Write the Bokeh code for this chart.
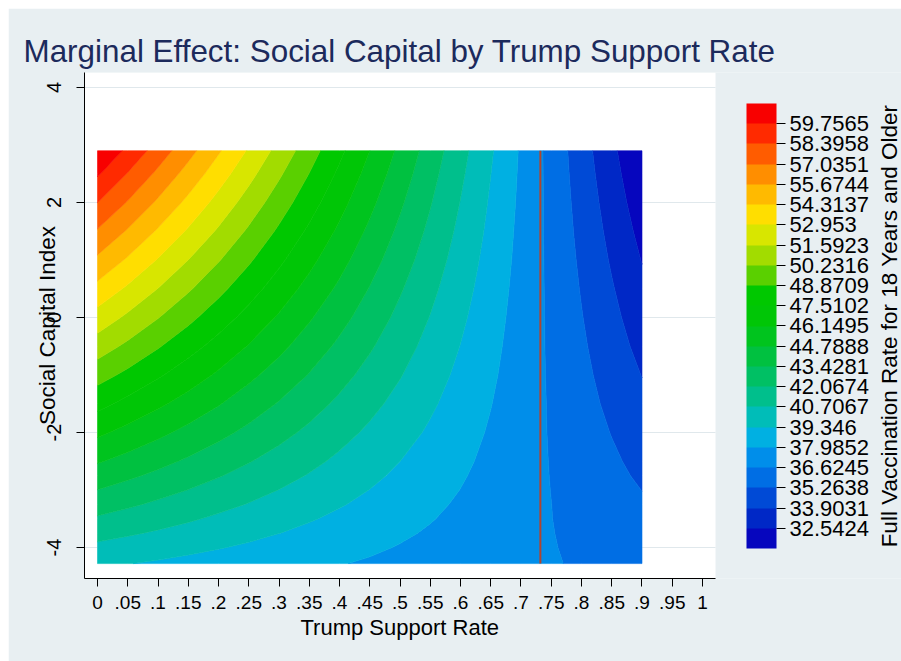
import numpy as np
from bokeh.plotting import figure
from bokeh.plotting.contour import contour_data
from bokeh.models import (ColumnDataSource, FixedTicker, LinearColorMapper, ColorBar,
                          Label, Range1d, Title)
from bokeh.embed import file_html
from bokeh.resources import INLINE

# ---------------- data ----------------
TITLE = "Marginal Effect: Social Capital by Trump Support Rate"
X_LABEL = "Trump Support Rate"
Y_LABEL = "Social Capital Index"
CB_LABEL = "Full Vaccination Rate for 18 Years and Older"

# grid columns: Trump support rate
TRUMP_RATE = [0.0, 0.05, 0.1, 0.15, 0.2, 0.25, 0.3, 0.35, 0.4, 0.45,
              0.5, 0.55, 0.6, 0.65, 0.7, 0.75, 0.8, 0.85, 0.9]
# grid rows: social capital index
SOCIAL_CAPITAL = [-4.28, -4.0, -3.75, -3.5, -3.25, -3.0, -2.75, -2.5, -2.0, -1.5,
                  -1.0, -0.5, 0.0, 0.5, 1.0, 1.5, 2.0, 2.5, 2.9]
# predicted full vaccination rate (rows follow SOCIAL_CAPITAL, columns TRUMP_RATE)
VACC_RATE = [
    [39.57, 39.38, 39.19, 38.99, 38.80, 38.61, 38.42, 38.23, 38.04, 37.85, 37.66, 37.47, 37.27, 37.08, 36.89, 36.70, 36.51, 36.32, 36.13],
    [40.41, 40.16, 39.91, 39.66, 39.41, 39.17, 38.92, 38.67, 38.42, 38.17, 37.92, 37.67, 37.43, 37.18, 36.93, 36.68, 36.43, 36.18, 35.94],
    [41.16, 40.86, 40.56, 40.26, 39.96, 39.66, 39.36, 39.06, 38.76, 38.46, 38.16, 37.86, 37.56, 37.26, 36.96, 36.66, 36.36, 36.06, 35.76],
    [41.91, 41.56, 41.21, 40.86, 40.50, 40.15, 39.80, 39.45, 39.10, 38.75, 38.40, 38.05, 37.70, 37.35, 36.99, 36.64, 36.29, 35.94, 35.59],
    [42.66, 42.26, 41.85, 41.45, 41.05, 40.65, 40.25, 39.84, 39.44, 39.04, 38.64, 38.23, 37.83, 37.43, 37.03, 36.63, 36.22, 35.82, 35.42],
    [43.41, 42.96, 42.50, 42.05, 41.59, 41.14, 40.69, 40.23, 39.78, 39.33, 38.87, 38.42, 37.97, 37.51, 37.06, 36.61, 36.15, 35.70, 35.25],
    [44.16, 43.65, 43.15, 42.64, 42.14, 41.64, 41.13, 40.63, 40.12, 39.62, 39.11, 38.61, 38.10, 37.60, 37.09, 36.59, 36.08, 35.58, 35.07],
    [44.91, 44.35, 43.80, 43.24, 42.69, 42.13, 41.57, 41.02, 40.46, 39.91, 39.35, 38.79, 38.24, 37.68, 37.13, 36.57, 36.01, 35.46, 34.90],
    [46.41, 45.75, 45.09, 44.43, 43.78, 43.12, 42.46, 41.80, 41.14, 40.48, 39.83, 39.17, 38.51, 37.85, 37.19, 36.53, 35.87, 35.22, 34.56],
    [47.91, 47.15, 46.39, 45.63, 44.87, 44.11, 43.34, 42.58, 41.82, 41.06, 40.30, 39.54, 38.78, 38.02, 37.26, 36.50, 35.74, 34.97, 34.21],
    [49.41, 48.55, 47.68, 46.82, 45.96, 45.09, 44.23, 43.37, 42.50, 41.64, 40.78, 39.91, 39.05, 38.19, 37.32, 36.46, 35.60, 34.73, 33.87],
    [50.91, 49.95, 48.98, 48.01, 47.05, 46.08, 45.12, 44.15, 43.18, 42.22, 41.25, 40.29, 39.32, 38.35, 37.39, 36.42, 35.46, 34.49, 33.52],
    [52.41, 51.34, 50.28, 49.21, 48.14, 47.07, 46.00, 44.93, 43.86, 42.80, 41.73, 40.66, 39.59, 38.52, 37.45, 36.39, 35.32, 34.25, 33.18],
    [53.91, 52.74, 51.57, 50.40, 49.23, 48.06, 46.89, 45.72, 44.55, 43.37, 42.20, 41.03, 39.86, 38.69, 37.52, 36.35, 35.18, 34.01, 32.84],
    [55.41, 54.14, 52.87, 51.59, 50.32, 49.05, 47.77, 46.50, 45.23, 43.95, 42.68, 41.41, 40.13, 38.86, 37.59, 36.31, 35.04, 33.76, 32.49],
    [56.91, 55.54, 54.16, 52.79, 51.41, 50.03, 48.66, 47.28, 45.91, 44.53, 43.15, 41.78, 40.40, 39.03, 37.65, 36.27, 34.90, 33.52, 32.15],
    [58.41, 56.94, 55.46, 53.98, 52.50, 51.02, 49.54, 48.07, 46.59, 45.11, 43.63, 42.15, 40.67, 39.19, 37.72, 36.24, 34.76, 33.28, 31.80],
    [59.92, 58.33, 56.75, 55.17, 53.59, 52.01, 50.43, 48.85, 47.27, 45.69, 44.11, 42.52, 40.94, 39.36, 37.78, 36.20, 34.62, 33.04, 31.46],
    [61.12, 59.45, 57.79, 56.13, 54.46, 52.80, 51.14, 49.48, 47.81, 46.15, 44.49, 42.82, 41.16, 39.50, 37.83, 36.17, 34.51, 32.85, 31.18],
]
# contour cut points (colour bar labels)
LEVEL_CUTS = [32.5424, 33.9031, 35.2638, 36.6245, 37.9852, 39.346, 40.7067,
              42.0674, 43.4281, 44.7888, 46.1495, 47.5102, 48.8709, 50.2316,
              51.5923, 52.953, 54.3137, 55.6744, 57.0351, 58.3958, 59.7565]
LEVEL_LABELS = ["32.5424", "33.9031", "35.2638", "36.6245", "37.9852", "39.346",
                "40.7067", "42.0674", "43.4281", "44.7888", "46.1495", "47.5102",
                "48.8709", "50.2316", "51.5923", "52.953", "54.3137", "55.6744",
                "57.0351", "58.3958", "59.7565"]
Z_LOW, Z_HIGH = 31.1817, 61.1172
# Trump support rate where the marginal effect of social capital is zero
ZERO_EFFECT_RATE = 0.732

X_TICKS = [0.0, 0.05, 0.1, 0.15, 0.2, 0.25, 0.3, 0.35, 0.4, 0.45, 0.5,
           0.55, 0.6, 0.65, 0.7, 0.75, 0.8, 0.85, 0.9, 0.95, 1.0]
X_TICK_LABELS = ["0", ".05", ".1", ".15", ".2", ".25", ".3", ".35", ".4", ".45", ".5",
                 ".55", ".6", ".65", ".7", ".75", ".8", ".85", ".9", ".95", "1"]
Y_TICKS = [-4, -2, 0, 2, 4]
Y_TICK_LABELS = ["-4", "-2", "0", "2", "4"]

# ---------------- layout / styles ----------------
X_LO, X_HI = -0.0215, 1.0215     # plot region (white area) x extent
Y_LO, Y_HI = -4.539, 4.261       # plot region y extent
PLOT_W_PX = 631                  # white plot region width in px
FRAME_W_PX = 817                 # frame extends under the colour bar area
X_END = X_LO + (X_HI - X_LO) * FRAME_W_PX / PLOT_W_PX

PALETTE = ["#0606BE", "#0028C6", "#004AD6", "#006EE4", "#008EEA", "#00B0E2",
           "#00BDB8", "#00BF8C", "#00C064", "#00C140", "#00C41E", "#00C606",
           "#00C800", "#5AD000", "#A2DC00", "#D8E600", "#FFDE00", "#FFBA00",
           "#FF8E00", "#FF5C00", "#FF2A00", "#F80000"]
BG = "#E8EFF2"
FONT = "Liberation Sans"

p = figure(width=893, height=653, output_backend="svg", toolbar_location=None,
           x_range=Range1d(X_LO, X_END), y_range=Range1d(Y_LO, Y_HI),
           min_border_left=76, min_border_right=0, min_border_top=64,
           min_border_bottom=83, margin=(8, 0, 0, 8))
p.background_fill_color = BG
p.border_fill_color = BG
p.outline_line_color = None
p.xgrid.visible = False
p.ygrid.visible = False

# white plot region
p.quad(left=[X_LO], right=[X_HI], bottom=[Y_LO], top=[Y_HI],
       fill_color="white", line_color=None)
# horizontal grid lines within the plot region
p.segment(x0=[X_LO] * len(Y_TICKS), y0=Y_TICKS, x1=[X_HI] * len(Y_TICKS), y1=Y_TICKS,
          line_color="#E0E8EC", line_width=1)

# filled contours
levels = [Z_LOW - 0.05] + LEVEL_CUTS + [Z_HIGH + 0.05]
cd = contour_data(x=np.array(TRUMP_RATE), y=np.array(SOCIAL_CAPITAL),
                  z=np.array(VACC_RATE), levels=levels,
                  want_fill=True, want_line=False)
fd = cd.fill_data
lv = np.array(levels)
colors = [PALETTE[int(np.argmin(np.abs(lv - lo)))] for lo in fd.lower_levels]
src = ColumnDataSource(dict(xs=fd.xs, ys=fd.ys, color=colors))
p.multi_polygons(xs="xs", ys="ys", fill_color="color", line_color="color",
                 line_width=0.6, source=src)

# zero-effect line
p.segment(x0=[ZERO_EFFECT_RATE], y0=[SOCIAL_CAPITAL[0]],
          x1=[ZERO_EFFECT_RATE], y1=[SOCIAL_CAPITAL[-1]],
          line_color="#B0442E", line_width=2)

# x axis
xa = p.xaxis[0]
xa.bounds = (X_LO, X_HI)
xa.ticker = FixedTicker(ticks=X_TICKS)
xa.major_label_overrides = dict(zip(X_TICKS, X_TICK_LABELS))
xa.major_label_text_font = FONT
xa.major_label_text_font_size = "19px"
xa.major_label_text_color = "black"
xa.major_label_standoff = 9
xa.major_tick_out = 8
xa.major_tick_in = 0
xa.minor_tick_out = 0
xa.minor_tick_in = 0
xa.axis_line_color = "black"
xa.major_tick_line_color = "black"

# x axis title, centred under the white plot region
p.add_layout(Title(text=X_LABEL, align="left", offset=216, standoff=2,
                   text_font=FONT, text_font_size="22px", text_font_style="normal",
                   text_color="black"), "below")

# y axis
ya = p.yaxis[0]
ya.ticker = FixedTicker(ticks=Y_TICKS)
ya.major_label_overrides = dict(zip(Y_TICKS, Y_TICK_LABELS))
ya.major_label_orientation = "vertical"
ya.major_label_text_font = FONT
ya.major_label_text_font_size = "20px"
ya.major_label_text_color = "black"
ya.major_label_standoff = 15
ya.major_tick_out = 8
ya.major_tick_in = 0
ya.minor_tick_out = 0
ya.minor_tick_in = 0
ya.axis_line_color = "black"
ya.major_tick_line_color = "black"
ya.axis_label = Y_LABEL
ya.axis_label_text_font = FONT
ya.axis_label_text_font_size = "22.5px"
ya.axis_label_text_font_style = "normal"
ya.axis_label_text_color = "black"
ya.axis_label_standoff = -15

# title
p.title.text = TITLE
p.title.text_font = FONT
p.title.text_font_size = "31.4px"
p.title.text_font_style = "normal"
p.title.text_color = "#1C2A5C"
p.title.align = "left"
p.title.offset = -61
p.title.standoff = 7

# colour bar
mapper = LinearColorMapper(palette=PALETTE, low=Z_LOW, high=Z_HIGH)
cb = ColorBar(color_mapper=mapper, ticker=FixedTicker(ticks=LEVEL_CUTS),
              major_label_overrides=dict(zip(LEVEL_CUTS, LEVEL_LABELS)),
              width=30, height=445, location=(662, 30), margin=0, padding=0,
              major_tick_out=9, major_tick_in=0, major_tick_line_color="black",
              minor_tick_line_color=None, bar_line_color=None,
              label_standoff=4, major_label_text_font=FONT,
              major_label_text_font_size="22px", major_label_text_color="black",
              background_fill_color=None, border_line_color=None)
p.add_layout(cb)

p.add_layout(Label(x=805, y=252.5, x_units="screen", y_units="screen", text=CB_LABEL,
                   angle=90, angle_units="deg", text_align="center",
                   text_baseline="alphabetic", text_font=FONT,
                   text_font_size="22.5px", text_color="black"))

open("out.html", "w").write(file_html(p, INLINE))
